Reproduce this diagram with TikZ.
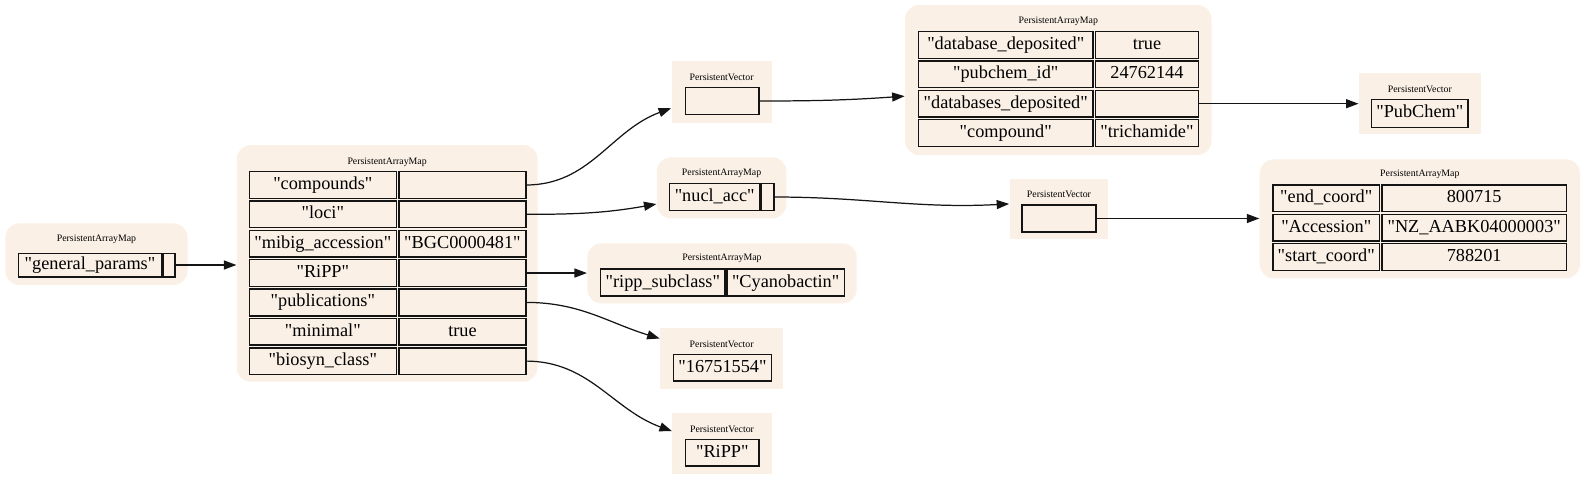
\documentclass[tikz,border=0pt]{standalone}
\usepackage{fontspec}
\setmainfont{Liberation Serif}[Ligatures=TeXOff]
\usepackage{tikz}
\usetikzlibrary{arrows.meta, positioning, calc}
\definecolor{mylinen}{RGB}{250,240,230}
\definecolor{mydark}{RGB}{20,20,20}
\tikzset{
  mapbg/.style={rectangle, fill=mylinen, rounded corners=0.28cm, inner sep=0pt},
  vecbg/.style={rectangle, fill=mylinen, inner sep=0pt},
  cellbox/.style={rectangle, draw=mydark, fill=mylinen, line width=0.85pt,
    inner sep=0pt, outer sep=0pt, minimum height=0.534cm,
    text height=7.3pt, text depth=2.1pt, font=\fontsize{10.4}{12}\selectfont},
  ttl/.style={inner sep=0pt, font=\fontsize{5.6}{6}\selectfont},
  arrow/.style={-{Triangle[length=0.25cm, width=0.18cm]}, line width=0.7pt, color=mydark}
}

\begin{document}
\begin{tikzpicture}
  \tikzset{
    mainkey/.style={cellbox, minimum width=2.942cm},
    mainval/.style={cellbox, minimum width=2.542cm},
    cpdkey/.style={cellbox, minimum width=3.486cm},
    cpdval/.style={cellbox, minimum width=2.062cm},
    endk/.style={cellbox, minimum width=2.122cm},
    endv/.style={cellbox, minimum width=3.688cm}
  }
  \useasboundingbox (0,0) rectangle (31.7,9.6);

  % Backgrounds
  \node[mapbg, minimum width=3.642cm, minimum height=1.234cm] (gpmap) at (1.929,4.516) {};
  \node[mapbg, minimum width=6.014cm, minimum height=4.734cm] (mainmap) at (7.743,4.333) {};
  \node[vecbg, minimum width=2.004cm, minimum height=1.234cm] (compvec) at (14.432,7.763) {};
  \node[mapbg, minimum width=6.132cm, minimum height=3.0cm] (cmpdmap) at (21.166,8.0) {};
  \node[vecbg, minimum width=2.438cm, minimum height=1.214cm] (pcvec) at (28.397,7.527) {};
  \node[mapbg, minimum width=2.592cm, minimum height=1.22cm] (nuclmap) at (14.432,5.844) {};
  \node[vecbg, minimum width=1.978cm, minimum height=1.206cm] (locivec) at (21.179,5.417) {};
  \node[mapbg, minimum width=6.406cm, minimum height=2.38cm] (endmap) at (28.397,5.224) {};
  \node[mapbg, minimum width=5.388cm, minimum height=1.2cm] (rippmap) at (14.44,4.134) {};
  \node[vecbg, minimum width=2.466cm, minimum height=1.214cm] (pubvec) at (14.433,2.427) {};
  \node[vecbg, minimum width=1.988cm, minimum height=1.214cm] (classvec) at (14.44,0.727) {};

  % Titles
  \node[ttl] (gpttl) at ([yshift=-0.33cm]gpmap.north) {PersistentArrayMap};
  \node[ttl] (mainttl) at ([yshift=-0.35cm]mainmap.north) {PersistentArrayMap};
  \node[ttl] (compttl) at ([yshift=-0.33cm]compvec.north) {PersistentVector};
  \node[ttl] (cmpdttl) at ([yshift=-0.33cm]cmpdmap.north) {PersistentArrayMap};
  \node[ttl] (pcttl) at ([yshift=-0.32cm]pcvec.north) {PersistentVector};
  \node[ttl] (nuclttl) at ([yshift=-0.33cm]nuclmap.north) {PersistentArrayMap};
  \node[ttl] (locittl) at ([yshift=-0.31cm]locivec.north) {PersistentVector};
  \node[ttl] (endttl) at ([yshift=-0.31cm]endmap.north) {PersistentArrayMap};
  \node[ttl] (rippttl) at ([yshift=-0.31cm]rippmap.north) {PersistentArrayMap};
  \node[ttl] (pubttl) at ([yshift=-0.33cm]pubvec.north) {PersistentVector};
  \node[ttl] (classttl) at ([yshift=-0.33cm]classvec.north) {PersistentVector};

  % general_params
  \node[cellbox, minimum width=2.856cm, minimum height=0.47cm] (gpkey) at (1.8,4.3) {"general\_params"};
  \node[cellbox, minimum width=0.236cm, minimum height=0.47cm, right=0.036cm of gpkey] (gpptr) {};

  % main map
  \node[mainkey] (cmpkey) at (6.457,5.9) {"compounds"};
  \node[mainval, right=0.05cm of cmpkey] (cmpval) {};
  \node[mainkey, below=0.053cm of cmpkey] (locikey) {"loci"};
  \node[mainval, right=0.05cm of locikey] (locival) {};
  \node[mainkey, below=0.053cm of locikey] (mibigkey) {"mibig\_accession"};
  \node[mainval, right=0.05cm of mibigkey] (mibigval) {"BGC0000481"};
  \node[mainkey, below=0.053cm of mibigkey] (rippkey) {"RiPP"};
  \node[mainval, right=0.05cm of rippkey] (rippval) {};
  \node[mainkey, below=0.053cm of rippkey] (pubkey) {"publications"};
  \node[mainval, right=0.05cm of pubkey] (pubval) {};
  \node[mainkey, below=0.053cm of pubkey] (minkey) {"minimal"};
  \node[mainval, right=0.05cm of minkey] (minval) {true};
  \node[mainkey, below=0.053cm of minkey] (bioskey) {"biosyn\_class"};
  \node[mainval, right=0.05cm of bioskey] (biosval) {};

  % compound map
  \node[cpdkey] (depkey) at (20.115,8.7) {"database\_deposited"};
  \node[cpdval, right=0.05cm of depkey] (depval) {true};
  \node[cpdkey, below=0.053cm of depkey] (pcidkey) {"pubchem\_id"};
  \node[cpdval, right=0.05cm of pcidkey] (pcidval) {24762144};
  \node[cpdkey, below=0.053cm of pcidkey] (dbkey) {"databases\_deposited"};
  \node[cpdval, right=0.05cm of dbkey] (dbval) {};
  \node[cpdkey, below=0.053cm of dbkey] (cpdkey) {"compound"};
  \node[cpdval, right=0.05cm of cpdkey] (cpdval) {"trichamide"};

  % loci map
  \node[endk] (endkey) at (26.525,5.633) {"end\_coord"};
  \node[endv, right=0.054cm of endkey] (endval) {800715};
  \node[endk, below=0.053cm of endkey] (acckey) {"Accession"};
  \node[endv, right=0.054cm of acckey] (accval) {"NZ\_AABK04000003"};
  \node[endk, below=0.053cm of acckey] (startkey) {"start\_coord"};
  \node[endv, right=0.054cm of startkey] (startval) {788201};

  % small ones
  \node[cellbox, minimum width=1.472cm] (compcell) at (14.444,7.58) {};
  \node[cellbox, minimum width=1.928cm, minimum height=0.56cm] (pccell) at (28.396,7.334) {"PubChem"};
  \node[cellbox, minimum width=1.812cm, minimum height=0.548cm] (nuclkey) at (14.294,5.66) {"nucl\_acc"};
  \node[cellbox, minimum width=0.244cm, minimum height=0.548cm, right=0.032cm of nuclkey] (nuclptr) {};
  \node[cellbox, minimum width=1.472cm, minimum height=0.54cm] (locicell) at (21.18,5.23) {};
  \node[cellbox, minimum width=2.486cm, minimum height=0.54cm] (subkey) at (13.257,3.95) {"ripp\_subclass"};
  \node[cellbox, minimum width=2.346cm, minimum height=0.54cm, right=0.04cm of subkey] (subval) {"Cyanobactin"};
  \node[cellbox, minimum width=1.968cm] (pubcell) at (14.45,2.247) {"16751554"};
  \node[cellbox, minimum width=1.466cm] (classcell) at (14.447,0.547) {"RiPP"};

  % Paths
  \draw[arrow] (gpptr.east) -- (gpptr.east -| mainmap.west);
  \draw[arrow] (cmpval.east) to[out=0, in=200] (compvec.198);
  \draw[arrow] (compcell.east) to[out=0, in=184] (cmpdmap.186);
  \draw[arrow] (dbval.east) -- (dbval.east -| pcvec.west);
  \draw[arrow] (locival.east) to[out=0, in=190] (nuclmap.194);
  \draw[arrow] (nuclptr.east) to[out=0, in=183] (locivec.174);
  \draw[arrow] (locicell.east) -- (locicell.east -| endmap.west);
  \draw[arrow] (rippval.east) -- (rippval.east -| rippmap.west);
  \draw[arrow] (pubval.east) to[out=0, in=163] (pubvec.162);
  \draw[arrow] (biosval.east) to[out=0, in=160] (classvec.166);
\end{tikzpicture}
\end{document}
